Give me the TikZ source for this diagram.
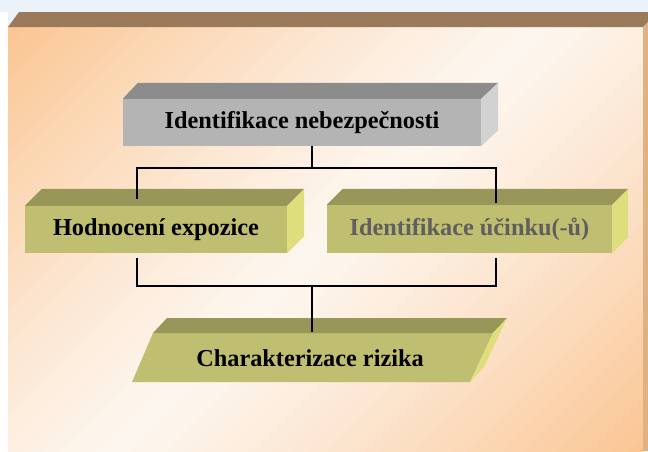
\documentclass[tikz,border=0pt]{standalone}
\usepackage{fontspec}
\setmainfont{Liberation Serif}
\usetikzlibrary{calc}
\definecolor{skyTop}{RGB}{236,242,250}
\definecolor{panelOrange}{RGB}{251,197,146}
\definecolor{panelCream}{RGB}{253,246,239}
\definecolor{panelBevel}{RGB}{154,122,90}
\definecolor{panelSide}{RGB}{224,178,130}
\definecolor{grayFront}{RGB}{180,180,180}
\definecolor{grayTop}{RGB}{140,140,140}
\definecolor{graySide}{RGB}{210,210,210}
\definecolor{oliveFront}{RGB}{192,190,112}
\definecolor{oliveTop}{RGB}{152,150,88}
\definecolor{oliveSide}{RGB}{222,222,125}
\definecolor{mutedText}{RGB}{95,95,95}
\begin{document}
\begin{tikzpicture}[x=1pt,y=-1pt,
  facebox/.style={inner sep=0pt, font=\bfseries\fontsize{24.3}{28}\selectfont},
  conn/.style={line width=2.6pt, black, line join=miter}]
\useasboundingbox (0,0) rectangle (648,451);

% slide backdrop
\fill[skyTop] (0,0) rectangle (648,451);
\fill[white] (0,12) rectangle (8,451);

% raised panel: diagonal orange-cream-orange gradient built from thin strips
\begin{scope}
  \clip (8,27) rectangle (643,451);
  \foreach \k in {0,...,59}{
    \pgfmathsetmacro{\ca}{35+\k*17.7}
    \pgfmathsetmacro{\cb}{\ca+18.5}
    \pgfmathsetmacro{\s}{(\k+0.5)/60}
    \pgfmathsetmacro{\p}{100*(1-abs(2*\s-1)^1.2)}
    \colorlet{stripcol}{panelCream!\p!panelOrange}
    \fill[stripcol] (\ca+10,-10) -- (\cb+10,-10) -- (\cb-500,500) -- (\ca-500,500) -- cycle;
  }
\end{scope}
\fill[panelBevel] (8,27) -- (19,12) -- (648,12) -- (648,22) -- (643,27) -- cycle;
\fill[panelSide] (643,27) -- (648,22) -- (648,451) -- (643,451) -- cycle;

% hazard identification block
\node[facebox, fill=grayFront, minimum width=358pt, minimum height=47pt] (haz) at (302,122.5)
  {Identifikace nebezpečnosti};
\fill[grayTop] (haz.north west) -- ++(15,-16) -- ($(haz.north east)+(17,-16)$) -- (haz.north east) -- cycle;
\fill[graySide] (haz.north east) -- ++(17,-16) -- ($(haz.south east)+(17,-16)$) -- (haz.south east) -- cycle;

% exposure assessment block
\node[facebox, fill=oliveFront, minimum width=262pt, minimum height=47pt] (expo) at (156,229.5)
  {Hodnocení expozice};
\fill[oliveTop] (expo.north west) -- ++(17,-17) -- ($(expo.north east)+(17,-17)$) -- (expo.north east) -- cycle;
\fill[oliveSide] (expo.north east) -- ++(17,-17) -- ($(expo.south east)+(17,-17)$) -- (expo.south east) -- cycle;

% effect identification block
\node[facebox, fill=oliveFront, minimum width=285pt, minimum height=48pt, text=mutedText] (eff) at (469.5,229)
  {Identifikace účinku(-ů)};
\fill[oliveTop] (eff.north west) -- ++(16,-16) -- ($(eff.north east)+(16,-16)$) -- (eff.north east) -- cycle;
\fill[oliveSide] (eff.north east) -- ++(16,-16) -- ($(eff.south east)+(16,-16)$) -- (eff.south east) -- cycle;

% risk characterisation block (slanted)
\coordinate (rc) at (311,357.5);
\fill[oliveFront] ($(rc)+(-158,-24.5)$) -- ($(rc)+(182,-24.5)$) -- ($(rc)+(159,24.5)$) -- ($(rc)+(-179,24.5)$) -- cycle;
\fill[oliveTop] ($(rc)+(-158,-24.5)$) -- ($(rc)+(-144,-39.5)$) -- ($(rc)+(196,-39.5)$) -- ($(rc)+(182,-24.5)$) -- cycle;
\fill[oliveSide] ($(rc)+(182,-24.5)$) -- ($(rc)+(196,-39.5)$) -- ($(rc)+(173,9.5)$) -- ($(rc)+(159,24.5)$) -- cycle;
\node[facebox] (risk) at (310,358) {Charakterizace rizika};

% connectors
\coordinate (hub1) at (312,168);
\coordinate (hub2) at (312,286);
\coordinate (expoIn) at (137,199);
\coordinate (effIn) at (496,203);
\coordinate (expoOut) at (137,258);
\coordinate (effOut) at (496,258);
\coordinate (riskIn) at (312,332);
\draw[conn] (hub1 |- haz.south) -- (hub1);
\draw[conn] (expoIn) |- (hub1) -| (effIn);
\draw[conn] (expoOut) |- (hub2) -| (effOut);
\draw[conn] (hub2) -- (riskIn);
\end{tikzpicture}
\end{document}
